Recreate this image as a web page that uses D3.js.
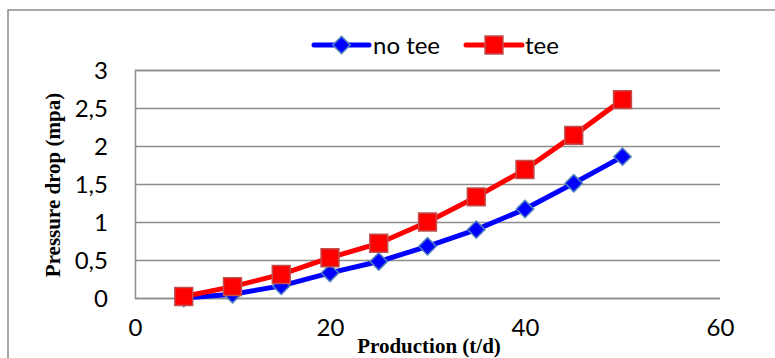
<!DOCTYPE html>
<html>
<head>
<meta charset="utf-8">
<script src="https://cdn.jsdelivr.net/npm/d3@7"></script>
<style>
  html, body { margin: 0; padding: 0; background: #fff; }
  svg { display: block; }
</style>
</head>
<body>
<svg id="chart" width="775" height="358"></svg>
<script>
// Production (t/d) and pressure drop (MPa) for the two pipe layouts
const production = [5, 10, 15, 20, 25, 30, 35, 40, 45, 50];
const noTee = [0.0, 0.05, 0.16, 0.33, 0.48, 0.68, 0.90, 1.17, 1.51, 1.86];
const tee = [0.02, 0.15, 0.31, 0.53, 0.72, 1.00, 1.33, 1.69, 2.14, 2.61];
const xTicks = [0, 20, 40, 60];
const yTicks = [0, 0.5, 1, 1.5, 2, 2.5, 3];
const seriesNames = ["no tee", "tee"];

const svg = d3.select("#chart");
const W = 775, H = 358;
const plot = { left: 135, right: 720, top: 70, bottom: 298 };

const x = d3.scaleLinear().domain([0, 60]).range([plot.left, plot.right]);
const y = d3.scaleLinear().domain([0, 3]).range([plot.bottom, plot.top]);

const tickFont = "Lato, 'Open Sans', sans-serif";
const titleFont = "'Liberation Serif', 'DejaVu Serif', serif";
const fontSize = 24;

// outer chart frame
svg.append("rect")
  .attr("x", 8).attr("y", 10)
  .attr("width", W).attr("height", H)
  .attr("fill", "none").attr("stroke", "#8c8c8c").attr("stroke-width", 1.5);

// horizontal gridlines and y tick labels
const yAxis = d3.axisLeft(y).tickValues(yTicks).tickSize(-(plot.right - plot.left))
  .tickFormat(d => String(d).replace(".", ","));
const gy = svg.append("g").attr("transform", `translate(${plot.left},0)`).call(yAxis);
gy.select(".domain").attr("stroke", "#8c8c8c").attr("stroke-width", 1.5);
gy.selectAll(".tick line").attr("stroke", "#8c8c8c").attr("stroke-width", 1.5);
gy.selectAll(".tick text")
  .attr("x", -27).attr("dy", "0.36em")
  .attr("font-family", tickFont).attr("font-size", fontSize).attr("fill", "#000");

// x tick labels only (no axis line)
const xAxis = d3.axisBottom(x).tickValues(xTicks).tickSize(0).tickFormat(d3.format("d"));
const gx = svg.append("g").attr("transform", `translate(0,${plot.bottom})`).call(xAxis);
gx.select(".domain").remove();
gx.selectAll(".tick text")
  .attr("y", 38).attr("dy", "0em")
  .attr("font-family", tickFont).attr("font-size", fontSize).attr("fill", "#000");

// axis titles
svg.append("text")
  .attr("x", 429).attr("y", 353)
  .attr("text-anchor", "middle")
  .attr("font-family", titleFont).attr("font-weight", "bold").attr("font-size", 21)
  .text("Production (t/d)");

svg.append("text")
  .attr("transform", `translate(60,185) rotate(-90)`)
  .attr("text-anchor", "middle")
  .attr("font-family", titleFont).attr("font-weight", "bold").attr("font-size", 21)
  .text("Pressure drop (mpa)");

const line = d3.line().x((d, i) => x(production[i])).y(d => y(d));

const styles = [
  { color: "#0000ff", markerStroke: "#4f81bd", size: 150, rotate: 45 },
  { color: "#ff0000", markerStroke: "#c0504d", size: 320, rotate: 0 }
];
const data = [noTee, tee];
const marker = s => d3.symbol().type(d3.symbolSquare).size(s.size);

data.forEach((vals, k) => {
  const s = styles[k];
  svg.append("path").datum(vals)
    .attr("d", line)
    .attr("fill", "none").attr("stroke", s.color).attr("stroke-width", 5)
    .attr("stroke-linejoin", "round").attr("stroke-linecap", "round");
  svg.append("g").selectAll("path").data(vals).join("path")
    .attr("transform", (d, i) => `translate(${x(production[i])},${y(d)}) rotate(${s.rotate})`)
    .attr("d", marker(s))
    .attr("fill", s.color).attr("stroke", s.markerStroke).attr("stroke-width", 1.5);
});

// legend
const legendItems = [
  { x0: 314, x1: 369, tx: 373 },
  { x0: 466, x1: 522, tx: 525 }
];
legendItems.forEach((it, k) => {
  const s = styles[k];
  const g = svg.append("g");
  g.append("line")
    .attr("x1", it.x0).attr("x2", it.x1).attr("y1", 45).attr("y2", 45)
    .attr("stroke", s.color).attr("stroke-width", 5).attr("stroke-linecap", "round");
  g.append("path")
    .attr("transform", `translate(${(it.x0 + it.x1) / 2},45) rotate(${s.rotate})`)
    .attr("d", marker(s))
    .attr("fill", s.color).attr("stroke", s.markerStroke).attr("stroke-width", 1.5);
  g.append("text")
    .attr("x", it.tx).attr("y", 45).attr("dy", "0.36em")
    .attr("font-family", tickFont).attr("font-size", fontSize).attr("fill", "#000")
    .text(seriesNames[k]);
});
</script>
</body>
</html>
